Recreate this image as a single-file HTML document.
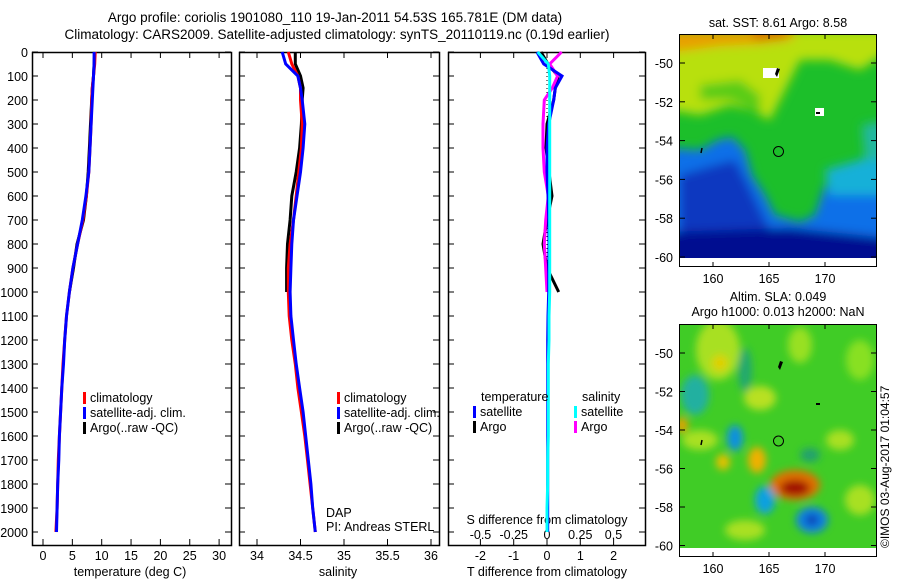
<!DOCTYPE html>
<html><head><meta charset="utf-8"><style>
body{margin:0;background:#fff;}
svg{display:block;font-family:"Liberation Sans",sans-serif;}
text{font-size:12.5px;fill:#000;}
</style></head><body>
<svg id="c" width="900" height="580" viewBox="0 0 900 580">
<defs>
<filter id="bl" x="-20%" y="-20%" width="140%" height="140%"><feGaussianBlur stdDeviation="5"/></filter>
<filter id="bl2" x="-20%" y="-20%" width="140%" height="140%"><feGaussianBlur stdDeviation="4"/></filter>
<clipPath id="m1c"><rect x="680" y="35" width="196" height="223"/></clipPath>
<clipPath id="m2c"><rect x="680" y="325" width="196" height="223"/></clipPath>
</defs>
<text x="335" y="22" text-anchor="middle" style="font-size:13.5px">Argo profile: coriolis 1901080_110 19-Jan-2011 54.53S 165.781E (DM data)</text>
<text x="337" y="39" text-anchor="middle" style="font-size:13.5px">Climatology: CARS2009. Satellite-adjusted climatology: synTS_20110119.nc (0.19d earlier)</text>

<g id="p1"></g>
<g id="p2"></g>
<g id="p3"></g>

<g>
<text x="778" y="27" text-anchor="middle">sat. SST: 8.61  Argo: 8.58</text>
<g clip-path="url(#m1c)">
<rect x="680" y="35" width="196" height="223" fill="#1cbf2a"/>
<g filter="url(#bl)">
<path d="M670 30 H890 V50 L860 70 L830 60 L800 60 L790 80 L780 100 L770 120 L750 110 L730 105 L700 115 L670 110Z" fill="#b8e010"/>
<path d="M670 30 H800 L790 40 L760 44 L720 46 L690 50 L670 52Z" fill="#e8a000"/>
<path d="M750 25 H790 L785 38 L755 40Z" fill="#d07000"/>
<path d="M700 85 L740 80 L760 95 L760 115 L730 100 L700 100Z" fill="#58cc18"/>
<path d="M670 148 L700 150 L718 140 L732 137 L745 150 L752 175 L765 195 L775 215 L800 222 L815 215 L825 185 L860 180 L890 175 V270 H670Z" fill="#1070e8"/>
<path d="M825 170 L860 160 L890 150 V195 L830 195Z" fill="#18b0d8"/>
<path d="M680 175 L715 165 L735 160 L748 185 L760 210 L770 230 L680 235Z" fill="#0838c0"/>
<path d="M670 232 L790 228 L890 238 V270 H670Z" fill="#000c90"/>
<path d="M862 125 L890 120 V160 L865 160Z" fill="#22b8a0"/>
</g>
<rect x="763" y="68" width="16" height="10" fill="#fff"/>
<rect x="815" y="108" width="9" height="8" fill="#fff"/>
</g>
<path d="M780 69 l-3 8 l-2 -3 l2 -6z" fill="#000"/>
<path d="M816 112 h4 v2 h-4z" fill="#000"/>
<path d="M702 148 l-1 5" stroke="#000" stroke-width="1.5"/>
<circle cx="778.5" cy="151.5" r="5" fill="none" stroke="#000"/>
<rect x="679.5" y="34.5" width="197" height="232" fill="none" stroke="#000"/>
<g id="m1t"></g>
</g>

<g>
<text x="778" y="301" text-anchor="middle">Altim. SLA: 0.049</text>
<text x="778" y="316" text-anchor="middle">Argo h1000: 0.013 h2000: NaN</text>
<g clip-path="url(#m2c)">
<rect x="680" y="325" width="196" height="223" fill="#40cc26"/>
<g filter="url(#bl2)">
<ellipse cx="718" cy="350" rx="22" ry="30" fill="#a8e020"/>
<ellipse cx="720" cy="363" rx="8" ry="8" fill="#e0d000"/>
<ellipse cx="800" cy="345" rx="12" ry="18" fill="#98e020"/>
<ellipse cx="860" cy="360" rx="14" ry="20" fill="#88e020"/>
<ellipse cx="695" cy="395" rx="14" ry="20" fill="#20b0a0"/>
<ellipse cx="745" cy="370" rx="7" ry="22" fill="#20a870"/>
<ellipse cx="760" cy="398" rx="16" ry="12" fill="#b8e020"/>
<ellipse cx="700" cy="440" rx="18" ry="10" fill="#a8e020"/>
<ellipse cx="735" cy="438" rx="8" ry="13" fill="#1090e0"/>
<ellipse cx="723" cy="462" rx="7" ry="8" fill="#e8c000"/>
<ellipse cx="757" cy="460" rx="9" ry="13" fill="#f0b000"/>
<ellipse cx="795" cy="485" rx="25" ry="15" fill="#e07000"/>
<ellipse cx="795" cy="488" rx="15" ry="8" fill="#a01000"/>
<ellipse cx="765" cy="500" rx="10" ry="14" fill="#10a0e0"/>
<ellipse cx="812" cy="520" rx="16" ry="13" fill="#1080e0"/>
<ellipse cx="812" cy="520" rx="6" ry="5" fill="#0830b0"/>
<ellipse cx="860" cy="500" rx="15" ry="15" fill="#a8e020"/>
<ellipse cx="840" cy="440" rx="14" ry="10" fill="#a8e020"/>
<ellipse cx="810" cy="455" rx="10" ry="7" fill="#20a070"/>
<ellipse cx="682" cy="425" rx="6" ry="8" fill="#e8a000"/>
<ellipse cx="745" cy="530" rx="20" ry="10" fill="#a8e020"/>
</g>
</g>
<path d="M783 362 l-3 8 l-2 -3 l2 -6z" fill="#000"/>
<path d="M816 403 h4 v2 h-4z" fill="#000"/>
<path d="M702 440 l-1 5" stroke="#000" stroke-width="1.5"/>
<circle cx="778.5" cy="441" r="5" fill="none" stroke="#000"/>
<rect x="679.5" y="324.5" width="197" height="232" fill="none" stroke="#000"/>
<g id="m2t"></g>
</g>
<text transform="translate(889,548) rotate(-90)" style="font-size:12px">©IMOS 03-Aug-2017 01:04:57</text>
</svg>
<script>
const depths=[0,50,100,150,200,300,400,500,600,700,800,900,1000,1100,1200,1300,1400,1500,1600,1700,1800,1900,2000];
const depthsArgo=[0,50,100,150,200,300,400,500,600,700,800,900,1000];
const tempClim=[8.9,8.8,8.6,8.4,8.3,8.2,8.0,7.8,7.4,6.8,5.9,5.1,4.5,4.0,3.7,3.4,3.2,3.0,2.8,2.6,2.5,2.4,2.2];
const tempSat=[8.7,8.7,8.6,8.5,8.4,8.2,8.0,7.8,7.3,6.7,5.9,5.1,4.5,4.0,3.7,3.5,3.2,3.0,2.8,2.7,2.5,2.4,2.3];
const tempArgo=[8.8,8.7,8.6,8.4,8.3,8.1,7.9,7.7,7.4,6.9,5.8,5.2,4.5];
const salClim=[34.36,34.40,34.47,34.50,34.50,34.52,34.51,34.48,34.45,34.42,34.38,34.36,34.36,34.37,34.40,34.44,34.47,34.51,34.55,34.58,34.61,34.64,34.67];
const salSat=[34.29,34.33,34.47,34.50,34.52,34.55,34.53,34.50,34.46,34.42,34.40,34.39,34.38,34.39,34.42,34.45,34.49,34.53,34.56,34.59,34.62,34.64,34.67];
const salArgo=[34.44,34.44,34.50,34.53,34.52,34.51,34.49,34.45,34.40,34.38,34.35,34.34,34.34];
const dTSat=[-0.3,-0.1,0.45,0.25,0.2,0.05,0,0,0.03,0.05,0.06,0.05,0.05,0.03,0.02,0.02,0.02,0.02,0.02,0.02,0.02,0.02,0.02];
const dTArgo=[-0.18,0.03,0.33,0.25,0.2,0.0,-0.03,0.06,0.15,0.0,-0.12,0.0,0.35];
const dSSat=[-0.07,0.01,0.02,0.02,0.02,0.02,0.02,0.02,0.02,0.02,0.02,0.02,0.02,0.015,0.015,0.01,0.01,0.01,0.01,0.005,0.005,0.0,0.0];
const dSArgo=[0.11,0.02,0.08,0.04,-0.02,-0.03,-0.03,-0.02,0.01,-0.01,-0.02,-0.01,0.0];
const depthTicks=[0,100,200,300,400,500,600,700,800,900,1000,1100,1200,1300,1400,1500,1600,1700,1800,1900,2000];
const tempTicks=[0,5,10,15,20,25,30];
const salTicks=[34,34.5,35,35.5,36];
const dTTicks=[-2,-1,0,1,2];
const dSTicks=[-0.5,-0.25,0,0.25,0.5];
const lonTicks=[160,165,170];
const latTicks=[-50,-52,-54,-56,-58,-60];

const NS='http://www.w3.org/2000/svg';
function mk(tag,attrs,parent){const e=document.createElementNS(NS,tag);for(const k in attrs)e.setAttribute(k,attrs[k]);parent.appendChild(e);return e;}
const yD=d=>52+d*0.24;
const TOP=52,BOT=545;
function box(g,x0,x1){mk('rect',{x:x0+0.5,y:TOP+0.5,width:x1-x0,height:BOT-TOP,fill:'none',stroke:'#000','stroke-width':1.5},g);
 depthTicks.forEach(d=>{mk('line',{x1:x0,x2:x0+6,y1:yD(d),y2:yD(d),stroke:'#000'},g);mk('line',{x1:x1-6,x2:x1,y1:yD(d),y2:yD(d),stroke:'#000'},g);});}
function stepLine(g,xs,ds,fx,color,name){let p='';xs.forEach((v,i)=>{const x=fx(v).toFixed(1),y=yD(ds[i]).toFixed(1);p+=(i?'L':'M')+x+' '+y;});
 const e=mk('path',{d:p,fill:'none',stroke:color,'stroke-width':3},g);}
function legend(g,x,y,items){items.forEach((it,i)=>{mk('rect',{x:x,y:y+i*15-10,width:3,height:12,fill:it[1]},g);const t=mk('text',{x:x+7,y:y+i*15},g);t.textContent=it[0];});}

const p1=document.getElementById('p1');
const xT=v=>43+v*5.87;
box(p1,32,231);
depthTicks.forEach(d=>{const t=mk('text',{x:28,y:yD(d)+5,'text-anchor':'end'},p1);t.textContent=d;});
tempTicks.forEach(v=>{mk('line',{x1:xT(v),x2:xT(v),y1:TOP,y2:TOP+6,stroke:'#000'},p1);mk('line',{x1:xT(v),x2:xT(v),y1:BOT-6,y2:BOT,stroke:'#000'},p1);const t=mk('text',{x:xT(v),y:560,'text-anchor':'middle'},p1);t.textContent=v;});
{const t=mk('text',{x:130,y:576,'text-anchor':'middle'},p1);t.textContent='temperature (deg C)';}
stepLine(p1,tempArgo,depthsArgo,xT,'#000','temp-argo-line');
stepLine(p1,tempClim,depths,xT,'#f00','temp-climatology-line');
stepLine(p1,tempSat,depths,xT,'#0000ff','temp-satellite-line');
legend(p1,83,402,[['climatology','#f00'],['satellite-adj. clim.','#00f'],['Argo(..raw -QC)','#000']]);

const p2=document.getElementById('p2');
const xS=v=>257+(v-34)*87;
box(p2,239,439);
salTicks.forEach(v=>{mk('line',{x1:xS(v),x2:xS(v),y1:TOP,y2:TOP+6,stroke:'#000'},p2);mk('line',{x1:xS(v),x2:xS(v),y1:BOT-6,y2:BOT,stroke:'#000'},p2);const t=mk('text',{x:xS(v),y:560,'text-anchor':'middle'},p2);t.textContent=v;});
{const t=mk('text',{x:338,y:576,'text-anchor':'middle'},p2);t.textContent='salinity';}
stepLine(p2,salArgo,depthsArgo,xS,'#000','sal-argo-line');
stepLine(p2,salClim,depths,xS,'#f00','sal-climatology-line');
stepLine(p2,salSat,depths,xS,'#0000ff','sal-satellite-line');
legend(p2,337,402,[['climatology','#f00'],['satellite-adj. clim.','#00f'],['Argo(..raw -QC)','#000']]);
{const t=mk('text',{x:326,y:517},p2);t.textContent='DAP';
 const t2=mk('text',{x:326,y:531},p2);t2.textContent='PI: Andreas STERL';}

const p3=document.getElementById('p3');
const xdT=v=>547+v*33.3;
const xdS=v=>547+v*133;
box(p3,448,645);
dTTicks.forEach(v=>{mk('line',{x1:xdT(v),x2:xdT(v),y1:TOP,y2:TOP+6,stroke:'#000'},p3);mk('line',{x1:xdT(v),x2:xdT(v),y1:BOT-6,y2:BOT,stroke:'#000'},p3);const t=mk('text',{x:xdT(v),y:560,'text-anchor':'middle'},p3);t.textContent=v;});
dSTicks.forEach(v=>{const t=mk('text',{x:xdS(v),y:539,'text-anchor':'middle'},p3);t.textContent=v;});
{const t=mk('text',{x:547,y:524,'text-anchor':'middle'},p3);t.textContent='S difference from climatology';
 const t2=mk('text',{x:547,y:576,'text-anchor':'middle'},p3);t2.textContent='T difference from climatology';}
mk('line',{x1:547,x2:547,y1:yD(0),y2:yD(1000),stroke:'#000','stroke-dasharray':'1 3'},p3);
stepLine(p3,dTArgo,depthsArgo,xdT,'#000','t-diff-argo-line');
stepLine(p3,dSArgo,depthsArgo,xdS,'#ff00ff','s-diff-argo-line');
stepLine(p3,dTSat,depths,xdT,'#0000ff','t-diff-satellite-line');
stepLine(p3,dSSat,depths,xdS,'#00ffff','s-diff-satellite-line');
{const t=mk('text',{x:481,y:401},p3);t.textContent='temperature';
 const t2=mk('text',{x:582,y:401},p3);t2.textContent='salinity';}
legend(p3,473,416,[['satellite','#00f'],['Argo','#000']]);
legend(p3,574,416,[['satellite','#00ffff'],['Argo','#ff00ff']]);

const xLon=v=>713+(v-160)*11.2;
function mapTicks(id,yTop,yBot,lat50,latStep){const g=document.getElementById(id);
 lonTicks.forEach(v=>{mk('line',{x1:xLon(v),x2:xLon(v),y1:yTop,y2:yTop+5,stroke:'#000'},g);mk('line',{x1:xLon(v),x2:xLon(v),y1:yBot-5,y2:yBot,stroke:'#000'},g);const t=mk('text',{x:xLon(v),y:yBot+16,'text-anchor':'middle'},g);t.textContent=v;});
 latTicks.forEach(v=>{const y=lat50+(-50-v)*latStep;mk('line',{x1:680,x2:685,y1:y,y2:y,stroke:'#000'},g);mk('line',{x1:871,x2:876,y1:y,y2:y,stroke:'#000'},g);const t=mk('text',{x:673,y:y+5,'text-anchor':'end'},g);t.textContent=v;});}
mapTicks('m1t',34,267,63,19.4);
mapTicks('m2t',324,557,353,19.25);
</script>
</body></html>
